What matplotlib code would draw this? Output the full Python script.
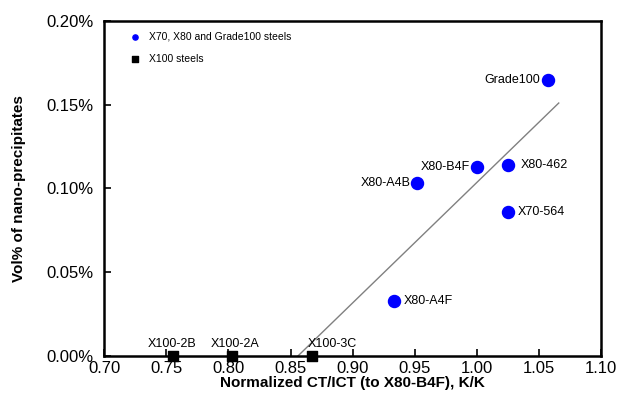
import matplotlib
matplotlib.use("Agg")
import matplotlib.pyplot as plt
from matplotlib.ticker import FuncFormatter

plt.rcParams['font.family'] = ['Liberation Sans', 'DejaVu Sans']

# X70, X80 and Grade100 steels
names_a = ['Grade100', 'X80-B4F', 'X80-462', 'X80-A4B', 'X70-564', 'X80-A4F']
ct_a = [1.057, 1.000, 1.025, 0.952, 1.025, 0.933]
vol_a = [0.165, 0.113, 0.114, 0.103, 0.086, 0.033]

# X100 steels
names_b = ['X100-2B', 'X100-2A', 'X100-3C']
ct_b = [0.755, 0.803, 0.867]
vol_b = [0.0, 0.0, 0.0]

# trend line end points
trend_x = [0.856, 1.066]
trend_y = [0.0, 0.151]

# label offsets (points) and alignment for each sample
offs_a = [(-5, 0, 'right'), (-5, 0, 'right'), (9, 0, 'left'),
          (-5, 0, 'right'), (7, 0, 'left'), (7, 0, 'left')]
offs_b = [(0, 'center'), (2, 'center'), (-3, 'left')]

fig = plt.figure(figsize=(6.17, 4.11), dpi=100)
ax = fig.add_axes([0.169, 0.134, 0.805, 0.815])

ax.plot(trend_x, trend_y, color='#808080', lw=1.0, zorder=1)
ax.scatter(ct_a, vol_a, s=75, color='#0000ff', zorder=3, clip_on=False)
ax.scatter(ct_b, vol_b, s=50, marker='s', color='black', zorder=3, clip_on=False)

for n, x, y, (dx, dy, ha) in zip(names_a, ct_a, vol_a, offs_a):
    ax.annotate(n, (x, y), xytext=(dx, dy), textcoords='offset points',
                ha=ha, va='center', fontsize=9)
for n, x, y, (dx, ha) in zip(names_b, ct_b, vol_b, offs_b):
    ax.annotate(n, (x, y), xytext=(dx, 4), textcoords='offset points',
                ha=ha, va='bottom', fontsize=9)

# legend entries with small marker handles
h1 = ax.scatter([], [], s=14, color='#0000ff', label='X70, X80 and Grade100 steels')
h2 = ax.scatter([], [], s=14, marker='s', color='black', label='X100 steels')
ax.legend(handles=[h1, h2], loc='upper left', frameon=False, fontsize=7.5,
          handletextpad=0.3, labelspacing=1.2, borderaxespad=0.6,
          bbox_to_anchor=(0.02, 1.0))

ax.set_xlim(0.70, 1.10)
ax.set_ylim(0.0, 0.20)
ax.set_xticks([0.70, 0.75, 0.80, 0.85, 0.90, 0.95, 1.00, 1.05, 1.10])
ax.set_yticks([0.0, 0.05, 0.10, 0.15, 0.20])
ax.xaxis.set_major_formatter(FuncFormatter(lambda v, p: f'{v:.2f}'))
ax.yaxis.set_major_formatter(FuncFormatter(lambda v, p: f'{v:.2f}%'))
ax.tick_params(direction='in', length=5, width=1.2, labelsize=12)
ax.tick_params(axis='x', pad=4)
ax.tick_params(axis='y', pad=8)

for sp in ax.spines.values():
    sp.set_linewidth(1.8)

ax.set_xlabel('Normalized CT/ICT (to X80-B4F), K/K', fontsize=11, fontweight='bold', labelpad=0)
ax.set_ylabel('Vol% of nano-precipitates', fontsize=11, fontweight='bold', labelpad=14)

fig.savefig('out.png', dpi=100)
